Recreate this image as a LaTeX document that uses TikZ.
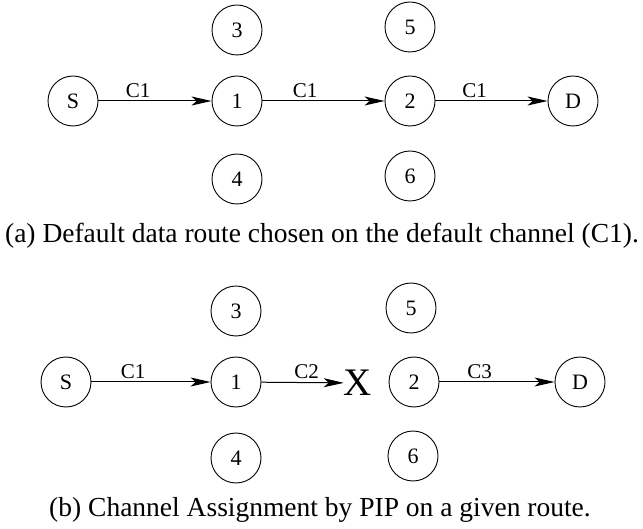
\documentclass[tikz,border=0pt]{standalone}
\usepackage{fontspec}
\setmainfont{Liberation Serif}
\usetikzlibrary{arrows.meta,positioning}
\tikzset{%
	station/.style = {draw, circle, line width=0.9pt, minimum size=50pt, inner sep=0pt, font=\fontsize{22}{24}\selectfont},
	link/.style    = {line width=1pt, -{Stealth[length=20pt,width=9pt,inset=5pt]}},
	chan/.style    = {above, pos=0.35, inner sep=3pt, font=\fontsize{21}{22}\selectfont},
	subcap/.style  = {anchor=base, font=\fontsize{27.5}{30}\selectfont},
	cross/.style   = {inner sep=0pt, font=\fontsize{39}{40}\selectfont},
}
\begin{document}
\begin{tikzpicture}[x=1pt,y=-1pt]
	
	\useasboundingbox (0,0) rectangle (643,529);
	
	% (a) default route
	\node[station] (Sa) at (73,101)  {S};
	\node[station] (a1) at (237,101) {1};
	\node[station] (a2) at (410,101) {2};
	\node[station] (Da) at (573,101) {D};
	\node[station] (a3) at (237,30)  {3};
	\node[station] (a4) at (237,179) {4};
	\node[station] (a5) at (410,27)  {5};
	\node[station] (a6) at (410,176) {6};
	
	\draw[link] (Sa) -- (a1) node[chan] {C1};
	\draw[link] (a1) -- (a2) node[chan] {C1};
	\draw[link] (a2) -- (Da) node[chan] {C1};
	
	\node[subcap] (capa) at (322,243) {(a) Default data route chosen on the default channel (C1).};
	
	% (b) channel assignment
	\node[station] (Sb) at (66,382)  {S};
	\node[station] (b1) at (236,382) {1};
	\node[station] (b2) at (414,382) {2};
	\node[station] (Db) at (580,382) {D};
	\node[station] (b3) at (236,311) {3};
	\node[station] (b4) at (236,458) {4};
	\node[station] (b5) at (411,308) {5};
	\node[station] (b6) at (413,456) {6};
	\node[cross]   (bX) at (358,383) {X};
	
	\draw[link] (Sb) -- (b1) node[chan] {C1};
	\draw[link] (b1) -- (bX) node[chan, pos=0.55] {C2};
	\draw[link] (b2) -- (Db) node[chan] {C3};
	
	\node[subcap] (capb) at (320,516) {(b) Channel Assignment by PIP on a given route.};
	
\end{tikzpicture}
\end{document}
